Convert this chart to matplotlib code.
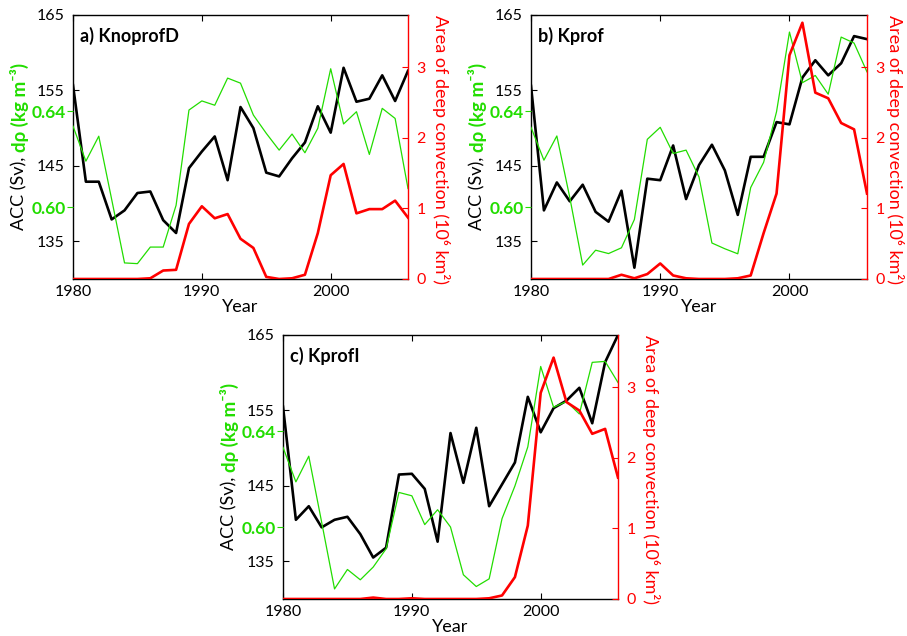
import numpy as np
import matplotlib
matplotlib.use('Agg')
import matplotlib.pyplot as plt

plt.rcParams['font.family'] = ['Lato', 'DejaVu Sans']

years = np.arange(1980, 2007)

# ACC transport (Sv)
acc_a = [155.7, 142.9, 142.9, 137.9, 139.1, 141.4, 141.6, 137.8, 136.1, 144.7,
         146.9, 148.9, 143.1, 152.8, 150.0, 144.1, 143.6, 146.0, 148.1, 152.9,
         149.4, 158.0, 153.5, 153.9, 157.0, 153.6, 157.6]
acc_b = [155.6, 139.1, 142.8, 140.3, 142.5, 138.9, 137.6, 141.7, 131.5, 143.3,
         143.1, 147.7, 140.6, 145.1, 147.8, 144.4, 138.5, 146.2, 146.2, 150.8,
         150.5, 156.7, 159.0, 157.0, 158.6, 162.2, 161.8]
acc_c = [155.5, 140.5, 142.3, 139.5, 140.5, 140.9, 138.6, 135.5, 136.8, 146.5,
         146.6, 144.6, 137.6, 152.0, 145.4, 152.7, 142.3, 145.2, 148.1, 156.8,
         152.1, 155.3, 156.3, 158.0, 153.3, 161.4, 165.0]

# density difference drho (kg m-3)
drho_a = [0.6337, 0.6191, 0.6295, 0.6032, 0.5767, 0.5764, 0.5833, 0.5833, 0.6007, 0.6404,
          0.6442, 0.6424, 0.6537, 0.6516, 0.6383, 0.6307, 0.6237, 0.6304, 0.6226, 0.6328,
          0.6576, 0.6346, 0.6397, 0.6219, 0.6411, 0.6369, 0.6077]
drho_b = [0.6332, 0.6195, 0.6296, 0.6040, 0.5758, 0.5820, 0.5806, 0.5830, 0.5948, 0.6282,
          0.6332, 0.6223, 0.6237, 0.6125, 0.5850, 0.5826, 0.5805, 0.6081, 0.6186, 0.6397,
          0.6729, 0.6518, 0.6548, 0.6470, 0.6708, 0.6683, 0.6563]
drho_c = [0.6332, 0.6188, 0.6295, 0.6020, 0.5742, 0.5823, 0.5780, 0.5833, 0.5909, 0.6144,
          0.6130, 0.6010, 0.6072, 0.6000, 0.5801, 0.5752, 0.5784, 0.6035, 0.6171, 0.6334,
          0.6669, 0.6499, 0.6523, 0.6471, 0.6686, 0.6690, 0.6602]

# area of deep convection (10^6 km2)
area_a = [0, 0, 0, 0, 0, 0, 0.01, 0.12, 0.13, 0.78,
          1.03, 0.86, 0.92, 0.57, 0.44, 0.03, 0, 0.01, 0.06, 0.65,
          1.47, 1.63, 0.93, 0.99, 0.99, 1.11, 0.87]
area_b = [0, 0, 0, 0, 0, 0, 0, 0.06, 0.01, 0.07,
          0.22, 0.05, 0.01, 0, 0, 0, 0.01, 0.05, 0.65, 1.21,
          3.17, 3.63, 2.64, 2.56, 2.21, 2.12, 1.21]
area_c = [0, 0, 0, 0, 0, 0, 0, 0.02, 0, 0,
          0.01, 0, 0, 0, 0, 0, 0.01, 0.05, 0.31, 1.04,
          2.92, 3.42, 2.79, 2.67, 2.34, 2.41, 1.72]

titles = ['a) KnoprofD', 'b) Kprof', 'c) KprofI']

GREEN = '#22dd00'
RED = '#ff0000'

fig = plt.figure(figsize=(9.07, 6.36), dpi=100)


def panel(rect, acc, drho, area, title, rlab_x=1.098):
    ax = fig.add_axes(rect)
    axg = ax.twinx()
    axr = ax.twinx()

    ax.plot(years, acc, color='black', lw=1.9, zorder=3)
    axg.plot(years, drho, color=GREEN, lw=0.9)
    axr.plot(years, area, color=RED, lw=1.9)

    ax.set_xlim(1980, 2006)
    ax.set_ylim(130, 165)
    axg.set_ylim(0.57, 0.68)
    axr.set_ylim(0, 3.74)

    ax.set_xticks([1980, 1990, 2000])
    ax.set_yticks([135, 145, 155, 165])
    ax.tick_params(direction='in', length=4, width=0.8, labelsize=11.5, pad=6,
                   top=True, right=False)
    ax.tick_params(axis='x', pad=4)

    # green scale sits on the left spine
    axg.yaxis.tick_left()
    axg.set_yticks([0.60, 0.64])
    axg.set_yticklabels(['0.60', '0.64'], color=GREEN, fontweight='bold')
    axg.tick_params(axis='y', direction='out', length=4, color=GREEN,
                    labelsize=12.5, pad=1)
    for s in axg.spines.values():
        s.set_visible(False)

    axr.set_yticks([0, 1, 2, 3])
    axr.tick_params(axis='y', direction='in', length=4, colors=RED,
                    labelsize=11.5, pad=6)
    for s in ['left', 'top', 'bottom']:
        axr.spines[s].set_visible(False)
    axr.spines['right'].set_color(RED)
    axr.spines['right'].set_linewidth(1.0)
    for s in ['left', 'top', 'bottom']:
        ax.spines[s].set_linewidth(1.0)
    ax.spines['right'].set_visible(False)

    axr.text(rlab_x, 0.49, 'Area of deep convection (10⁶ km²)', color=RED,
             fontsize=13, rotation=270, transform=axr.transAxes,
             ha='center', va='center')

    ax.set_xlabel('Year', fontsize=13, labelpad=0)

    # two-colour left label
    t1 = ax.text(-0.160, 0.185, 'ACC (Sv), ', rotation=90, fontsize=13,
                 color='black', transform=ax.transAxes, ha='center', va='bottom')
    ax.annotate('dρ (kg m⁻³)', xy=(0.5, 1.0), xycoords=t1, rotation=90,
                fontsize=13.5, color=GREEN, fontweight='bold',
                ha='center', va='bottom')

    ax.text(0.022, 0.955, title, transform=ax.transAxes, fontsize=13,
            fontweight='bold', ha='left', va='top')
    return ax


W, H = 907.0, 636.0
panel([73 / W, 1 - 279 / H, 335 / W, 264 / H], acc_a, drho_a, area_a, titles[0])
panel([531 / W, 1 - 279 / H, 336 / W, 264 / H], acc_b, drho_b, area_b, titles[1],
      rlab_x=1.082)
panel([283 / W, 1 - 599 / H, 335 / W, 264 / H], acc_c, drho_c, area_c, titles[2])

fig.savefig('out.png', dpi=100)
